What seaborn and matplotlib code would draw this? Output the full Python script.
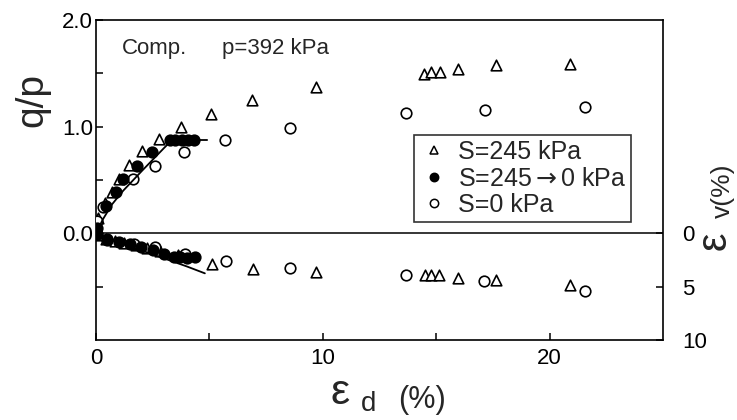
import numpy as np
import pandas as pd
import matplotlib
matplotlib.use("Agg")
import matplotlib.pyplot as plt
import seaborn as sns
from matplotlib.lines import Line2D

sns.set_style("white")
plt.rcParams['font.family'] = ['Liberation Sans', 'DejaVu Sans']
plt.rcParams['mathtext.fontset'] = 'custom'
plt.rcParams['mathtext.rm'] = 'Liberation Sans'
plt.rcParams['mathtext.it'] = 'Liberation Sans'
plt.rcParams['mathtext.bf'] = 'Liberation Sans:bold'
plt.rcParams['mathtext.sf'] = 'DejaVu Sans'

# ---- data (left-axis units; volumetric strain plotted as -ev/10) ----
# S = 245 kPa (triangles)
tri_q_x = [0.1, 0.4, 0.69, 1.03, 1.45, 2.01, 2.79, 3.73, 5.05, 6.9, 9.72,
           14.45, 14.79, 15.15, 15.96, 17.62, 20.9]
tri_q_y = [0.14, 0.28, 0.39, 0.51, 0.64, 0.77, 0.88, 1.0, 1.12, 1.25, 1.37,
           1.495, 1.51, 1.51, 1.54, 1.575, 1.59]
tri_v_x = [0.1, 0.45, 0.85, 1.25, 1.75, 2.25, 2.8, 3.6, 5.1, 6.93, 9.72,
           14.49, 14.79, 15.12, 15.96, 17.65, 20.9]
tri_v_y = [-0.02, -0.05, -0.07, -0.09, -0.11, -0.14, -0.17, -0.2, -0.29, -0.33, -0.36,
           -0.395, -0.395, -0.395, -0.42, -0.437, -0.487]
# S = 245 -> 0 kPa (filled circles)
fil_q_x = [0.05, 0.44, 0.88, 1.2, 1.79, 2.45, 3.27, 3.49, 3.78, 4.07, 4.33]
fil_q_y = [0.05, 0.26, 0.39, 0.51, 0.63, 0.76, 0.875, 0.875, 0.875, 0.875, 0.875]
fil_v_x = [0.05, 0.5, 1.0, 1.5, 2.0, 2.5, 3.0, 3.42, 3.7, 4.0, 4.37]
fil_v_y = [-0.01, -0.05, -0.08, -0.1, -0.13, -0.16, -0.19, -0.22, -0.22, -0.23, -0.22]
# S = 0 kPa (open circles)
opn_q_x = [0.03, 0.3, 1.61, 2.60, 3.89, 5.68, 8.55, 13.66, 17.15, 21.55]
opn_q_y = [0.12, 0.25, 0.505, 0.63, 0.76, 0.875, 0.99, 1.125, 1.16, 1.18]
opn_v_x = [0.03, 0.5, 1.66, 2.61, 3.93, 5.71, 8.55, 13.66, 17.1, 21.54]
opn_v_y = [-0.01, -0.06, -0.10, -0.13, -0.19, -0.264, -0.326, -0.393, -0.443, -0.537]
# model curves
mod_q_x = [0, 0.3, 0.7, 1.2, 1.6, 2.0, 2.5, 3.0, 3.35, 4.9]
mod_q_y = [0, 0.13, 0.27, 0.40, 0.49, 0.58, 0.69, 0.80, 0.875, 0.875]
mod_v_x = [0, 0.5, 1.0, 2.0, 3.0, 4.0, 4.8]
mod_v_y = [0, -0.045, -0.085, -0.16, -0.235, -0.31, -0.375]

labels = ["S=245 kPa", r"S=245$\mathsf{\rightarrow}$0 kPa", "S=0 kPa"]
right_ticks = [0, 5, 10]

W, H = 737, 420
fig = plt.figure(figsize=(7.37, 4.2), dpi=100)
ax = fig.add_axes([96/W, 80/H, 567/W, 320/H])

ms = 58
lw_m = 1.2
sns.scatterplot(x=tri_q_x + tri_v_x, y=tri_q_y + tri_v_y, ax=ax, marker='^', s=ms,
                facecolor='white', edgecolor='black', linewidth=lw_m, zorder=3)
sns.scatterplot(x=opn_q_x + opn_v_x, y=opn_q_y + opn_v_y, ax=ax, marker='o', s=ms,
                facecolor='white', edgecolor='black', linewidth=lw_m, zorder=3)
sns.scatterplot(x=fil_q_x + fil_v_x, y=fil_q_y + fil_v_y, ax=ax, marker='o', s=ms,
                facecolor='black', edgecolor='black', linewidth=lw_m, zorder=4)
sns.lineplot(x=mod_q_x, y=mod_q_y, ax=ax, sort=False, estimator=None, color='black', lw=1.3, zorder=5)
sns.lineplot(x=mod_v_x, y=mod_v_y, ax=ax, sort=False, estimator=None, color='black', lw=1.3, zorder=5)
ax.axhline(0, color='black', lw=1.1, zorder=1)

ax.set_xlim(0, 25)
ax.set_ylim(-1.0, 2.0)
ax.set_xticks([0, 10, 20])
ax.set_xticks([5, 15], minor=True)
ax.set_yticks([0, 1, 2])
ax.set_yticklabels(['0.0', '1.0', '2.0'])
ax.set_yticks([-0.5, 0.5, 1.5], minor=True)
ax.tick_params(which='both', direction='in', length=5, width=1.1, labelsize=16,
               left=True, bottom=True, right=True, top=False, pad=2, colors='black')
ax.tick_params(axis='x', pad=6)
for s in ax.spines.values():
    s.set_linewidth(1.2)
    s.set_color('black')

ax2 = ax.twinx()
ax2.set_ylim(10, -20)
ax2.set_yticks(right_ticks)
ax2.tick_params(direction='in', length=5, width=1.1, labelsize=16, pad=14, colors='black')
for s in ax2.spines.values():
    s.set_visible(False)

ax.set_ylabel('q/p', fontsize=28)
ax.yaxis.set_label_coords(-0.08, 0.75)
ax.set_xlabel('')

# x-axis label: epsilon with subscript d, then (%)
fig.text(340/W, 1 - 393/H, '\u03b5', fontsize=31, ha='center', va='center')
fig.text(369/W, 1 - 404/H, 'd', fontsize=20, ha='center', va='center')
fig.text(422/W, 1 - 400/H, '(%)', fontsize=22, ha='center', va='center')
# right axis label: epsilon with subscript v(%)
fig.text(715/W, 1 - 241/H, '\u03b5', fontsize=30, rotation=90, ha='center', va='center')
fig.text(723/W, 1 - 191/H, 'v(%)', fontsize=19, rotation=90, ha='center', va='center')

ax.text(0.046, 0.912, 'Comp.', transform=ax.transAxes, fontsize=16, va='center')
ax.text(0.222, 0.912, 'p=392 kPa', transform=ax.transAxes, fontsize=16, va='center')

handles = [
    Line2D([], [], ls='none', marker='^', ms=6, mfc='white', mec='black', mew=1.1),
    Line2D([], [], ls='none', marker='o', ms=6, mfc='black', mec='black', mew=1.1),
    Line2D([], [], ls='none', marker='o', ms=6, mfc='white', mec='black', mew=1.1),
]
leg = ax.legend(handles, labels, loc='upper left', bbox_to_anchor=(0.561, 0.64),
                fontsize=18, frameon=True, fancybox=False, borderpad=0.2,
                handletextpad=0.35, handlelength=1.2, labelspacing=0.1, borderaxespad=0)
leg.get_frame().set_edgecolor('black')
leg.get_frame().set_linewidth(1.2)

fig.savefig('out.png', dpi=100)
